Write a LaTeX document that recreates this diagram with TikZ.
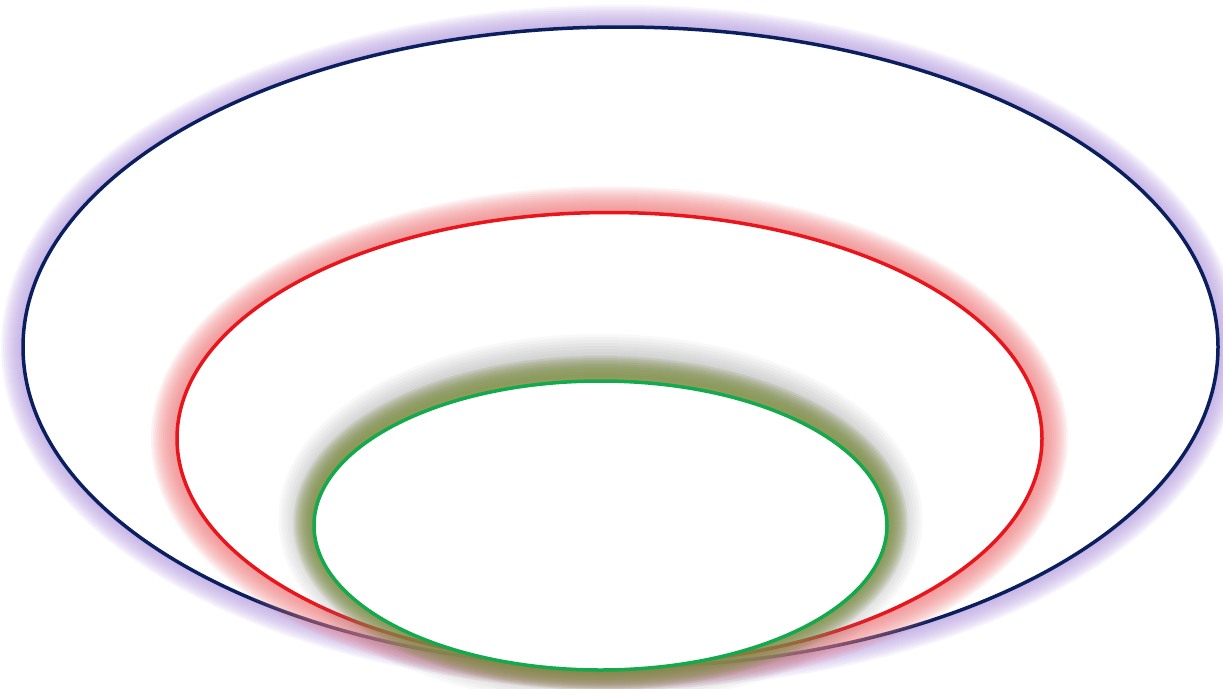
\documentclass[tikz,border=0pt]{standalone}
\usepackage{tikz}
\definecolor{ringnavy}{HTML}{0B1F5E}
\definecolor{ringred}{HTML}{E8161C}
\definecolor{ringgreen}{HTML}{13A94C}
\definecolor{haloblue}{HTML}{B8A0E2}
\definecolor{halored}{HTML}{F28486}
\definecolor{haloolive}{HTML}{7E9040}
\definecolor{halogray}{HTML}{808080}

\begin{document}
\begin{tikzpicture}[
  x=1pt, y=-1pt,
  ring/.style={line width=3.5pt, fill=white},
  outerring/.style={ring, draw=ringnavy},
  midring/.style={ring, draw=ringred},
  innerring/.style={ring, draw=ringgreen}
]
\clip (0,0) rectangle (1223,688);
\fill[white] (0,0) rectangle (1223,688);
% outer ring and its halo
\foreach \w in {4,8,...,44}{\draw[line width=\w pt, draw=haloblue, opacity=0.11] (620.5,347) ellipse [x radius=597.5, y radius=320];}
\draw[outerring] (620.5,347) ellipse [x radius=597.5, y radius=320];
% middle ring
\foreach \w in {4,8,...,52}{\draw[line width=\w pt, draw=halored, opacity=0.11] (609.5,438.5) ellipse [x radius=432.5, y radius=226];}
\draw[midring] (609.5,438.5) ellipse [x radius=432.5, y radius=226];
% inner ring, grey shadow first
\foreach \w in {6,12,...,66}{\draw[line width=\w pt, draw=halogray, opacity=0.05] (600.5,519) ellipse [x radius=289, y radius=152];}
\foreach \w in {4,8,...,40}{\draw[line width=\w pt, draw=haloolive, opacity=0.14] (600.5,523) ellipse [x radius=287, y radius=147];}
\draw[innerring] (600.5,525.5) ellipse [x radius=286.5, y radius=144.5];
\end{tikzpicture}
\end{document}
